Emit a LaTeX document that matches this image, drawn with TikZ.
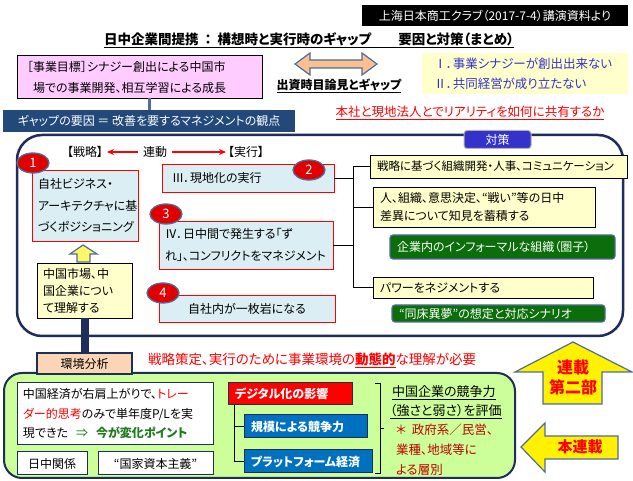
\documentclass[tikz,border=0pt]{standalone}
\usepackage{fontspec}
\setmainfont{Noto Sans CJK JP}[RawFeature=+palt]
\usetikzlibrary{arrows.meta,shapes.geometric}
\newcommand{\myfs}[2]{\fontsize{#1}{#2}\selectfont}
\definecolor{navy}{HTML}{1F2D5C}
\definecolor{steel}{HTML}{4F6D9A}
\definecolor{barblue}{HTML}{23497A}
\definecolor{lblue}{HTML}{DAEEF3}
\definecolor{pyel}{HTML}{FFFFCC}
\definecolor{pinkf}{HTML}{FFCCFF}
\definecolor{orangef}{HTML}{FAC090}
\definecolor{jblue}{HTML}{3333CC}
\definecolor{dgreen}{HTML}{0B6E0B}
\definecolor{lgreen}{HTML}{CCFF99}
\definecolor{peach}{HTML}{FBD5B5}
\definecolor{mblue}{HTML}{0070C0}
\definecolor{dred}{HTML}{C00000}
\definecolor{tgreen}{HTML}{1E7B1E}
\definecolor{circred}{HTML}{E00000}
\tikzset{
  every node/.style={inner sep=0pt, outer sep=0pt},
  lbox/.style={draw=red, fill=lblue, line width=0.8pt, align=left, inner xsep=7pt},
  ybox/.style={draw=black, fill=pyel, line width=0.8pt, align=left, inner xsep=7pt},
  gbox/.style={draw=steel, fill=dgreen, rounded corners=3pt, text=white, line width=1.2pt, align=left, inner xsep=7pt},
  wbox/.style={draw=navy, fill=white, line width=1pt, align=left, inner xsep=6pt},
  numc/.style={ellipse, draw=steel, line width=1.3pt, fill=circred, text=white, minimum width=32pt, minimum height=20pt, font={\myfs{13}{14}}},
  tree/.style={draw=black, line width=0.8pt},
  yarrow/.style={draw=steel, fill=yellow, line width=1.2pt},
  redarrow/.style={draw=red, line width=1.5pt, -{Stealth[length=7pt,width=6pt]}},
  cbox/.style={draw=navy, line width=1pt, text=white, font={\myfs{12}{14}\bfseries}, align=left, inner xsep=7pt}
}
\begin{document}
\begin{tikzpicture}[x=1pt,y=-1pt]
\useasboundingbox (0,0) rectangle (633,481);
\fill[white] (0,0) rectangle (633,481);
% header
\node[fill=black, text=white, minimum width=266pt, minimum height=21pt, font={\myfs{12}{14}}] (hdr) at (495,15.5) {上海日本商工クラブ（2017-7-4）講演資料より};
\node[font={\myfs{13.5}{15}\bfseries}] (title) at (309,40) {\underline{日中企業間提携\ \ ：\ \ 構想時と実行時のギャップ\hspace{2em}要因と対策（まとめ）}};
% goal box
\node[draw=black, fill=pinkf, line width=0.8pt, align=left, inner xsep=10pt, text width=225pt, minimum height=43pt, font={\myfs{12}{21}}] (goal) at (139.5,77) {［事業目標］シナジー創出による中国市\\\hspace{0.5em}場での事業開発、相互学習による成長};
% double arrow
\draw[steel, fill=orangef, line width=1.2pt] (295,64) -- (310,53) -- (310,60) -- (362,60) -- (362,53) -- (377,64) -- (362,75) -- (362,68) -- (310,68) -- (310,75) -- cycle;
\node[font={\myfs{12}{14}\bfseries}] (gap) at (339,86) {\underline{出資時目論見とギャップ}};
\node[fill=pyel, text width=182pt, minimum height=41pt, inner xsep=12pt, align=left, text=jblue, font={\myfs{12.5}{20}}] (issues) at (525,74) {Ⅰ．事業シナジーが創出出来ない\\Ⅱ．共同経営が成り立たない};
% bar
\node[fill=barblue, text=white, minimum width=292pt, minimum height=22pt, font={\myfs{12}{14}}] (bar) at (149,121) {ギャップの要因 ＝ 改善を要するマネジメントの観点};
\draw[steel, line width=3pt] (bar.north |- goal.south) -- (bar.north);
\node[text=red, font={\myfs{12.5}{14}}] (share) at (470,113) {\underline{本社と現地法人とでリアリティを如何に共有するか}};
% main container
\node[draw=navy, line width=2.5pt, rounded corners=25pt, minimum width=606pt, minimum height=201pt] (main) at (320,235.5) {};
\node[fill=jblue, draw=gray!60, line width=1pt, rounded corners=3pt, text=white, minimum width=67pt, minimum height=18pt, font={\myfs{12}{14}}] (taisaku) at (497.5,139.5) {対策};
% header row
\node[font={\myfs{12}{14}}] (senryaku) at (85,152) {【戦略】};
\node[font={\myfs{12}{14}}] (rendo) at (155,152) {連動};
\node[font={\myfs{12}{14}}] (jikko) at (246,152) {【実行】};
\draw[redarrow, shorten <=5pt, shorten >=4pt] (rendo) -- (senryaku);
\draw[redarrow, shorten <=5pt, shorten >=2pt] (rendo) -- (jikko);
% left boxes
\node[lbox, inner xsep=6pt, text width=94pt, minimum height=71pt, font={\myfs{12}{21.5}}] (b1) at (85,205.5) {自社ビジネス・\\アーキテクチャに基\\づくポジショニング};
\node[lbox, minimum height=28pt, inner xsep=10pt, text width=152pt, font={\myfs{12}{14}}] (b2) at (248,178) {Ⅲ．現地化の実行};
\node[lbox, text width=162pt, inner xsep=6pt, minimum height=48pt, font={\myfs{12}{22}}] (b3) at (246,245) {Ⅳ．日中間で発生する「ず\\れ」、コンフリクトをマネジメント};
\node[lbox, minimum width=176pt, minimum height=27pt, font={\myfs{12}{14}}] (b4) at (247,308.5) {自社内が一枚岩になる};
\node[numc] (c1) at (33,163) {1};
\node[numc] (c2) at (309,170) {2};
\node[numc] (c3) at (166,214) {3};
\node[numc] (c4) at (163,293) {4};
% small up arrow
\draw[steel, fill=yellow!60!white, line width=1.2pt] (83,245) -- (97,254) -- (90,254) -- (90,262) -- (77,262) -- (77,254) -- (70,254) -- cycle;
\node[ybox, inner xsep=6pt, text width=83pt, minimum height=55pt, font={\myfs{12}{17}}] (cm) at (84.5,290.5) {中国市場、中\\国企業につい\\て理解する};
% right column
\node[ybox, text width=243pt, minimum height=23pt, font={\myfs{11.5}{14}}] (ta) at (498.5,166.5) {戦略に基づく組織開発・人事、コミュニケーション};
\node[ybox, text width=208pt, minimum height=40pt, font={\myfs{12}{18}}] (tb) at (484,207) {人、組織、意思決定、“戦い”等の日中\\差異について知見を蓄積する};
\node[gbox, text width=211pt, minimum height=24pt, font={\myfs{12}{14}}] (tg1) at (502.5,247) {企業内のインフォーマルな組織（圏子）};
\node[ybox, text width=206pt, minimum height=21pt, font={\myfs{12}{14}}] (tc) at (483,287.5) {パワーをネジメントする};
\node[gbox, text width=199pt, minimum height=17pt, font={\myfs{12}{14}}] (tg2) at (498.5,313.5) {“同床異夢”の想定と対応シナリオ};
\coordinate (tt) at (353,0);
\draw[tree] (ta.west -| tt) -- (tc.west -| tt);
\draw[tree] (ta.west -| tt) -- (ta.west);
\draw[tree] (tb.west -| tt) -- (tb.west);
\draw[tree] (tc.west -| tt) -- (tc.west);
\draw[tree] (b2.east) -- (b2.east -| tt);
\draw[tree] (b3.east) -- (b3.east -| tt);
% environment section
\node[draw=navy, line width=2pt, fill=lgreen, rounded corners=18pt, minimum width=511pt, minimum height=105pt] (envbox) at (259.5,425.5) {};
\node[draw=navy, line width=2pt, fill=peach, minimum width=95pt, minimum height=21pt, font={\myfs{12}{14}}] (env) at (84.5,363.5) {環境分析};
\draw[navy, line width=8pt] (cm.south) -- (env.north);
\node[anchor=west, text=red, font={\myfs{13.5}{15}}] (need) at (148,360) {戦略策定、実行のために事業環境の\underline{\textbf{動態的}}な理解が必要};
\node[wbox, text width=184pt, minimum height=62pt, font={\myfs{12}{19.5}}] (ce) at (115,414) {中国経済が右肩上がりで、\textcolor{red}{トレー}\\\textcolor{red}{ダー的思考}のみで単年度P/Lを実\\現できた\ \ \textcolor{tgreen}{⇒\ \ \textbf{今が変化ポイント}}};
\node[wbox, minimum width=70pt, minimum height=23pt, font={\myfs{12}{14}}] (nc) at (52,463.5) {日中関係};
\node[wbox, minimum width=115pt, minimum height=23pt, font={\myfs{12}{14}}] (kk) at (155.5,463.5) {“国家資本主義”};
\node[cbox, fill=red, text width=110pt, minimum height=22pt] (dg) at (290,394) {デジタル化の影響};
\node[cbox, fill=mblue, text width=109pt, minimum height=23pt] (kb) at (305.5,426.5) {規模による競争力};
\node[cbox, fill=mblue, text width=114pt, minimum height=23pt] (pf) at (308,461.5) {プラットフォーム経済};
\coordinate (dx) at (234,0);
\draw[tree] (dg.south -| dx) |- (pf.west);
\draw[tree] (kb.west -| dx) -- (kb.west);
\draw[tree] (375,383) -- (380,383) -- (380,473) -- (375,473);
\draw[tree] (380,428) -- (384,428);
\node[anchor=west, font={\myfs{13}{15}}] (cp1) at (392,393) {\underline{中国企業の競争力}};
\node[anchor=west, font={\myfs{13}{15}}] (cp2) at (390,412) {\underline{（強さと弱さ）を評価}};
\node[anchor=north west, text=dred, align=left, font={\myfs{12.5}{20}}] (layer) at (396,424) {＊\ \ 政府系／民営、\\業種、地域等に\\よる層別};
% big arrows
\draw[yarrow] (573,342) -- (632,372) -- (602,372) -- (602,404) -- (543,404) -- (543,372) -- (515,372) -- cycle;
\node[text=red, align=center, font={\myfs{16}{20}\bfseries}] (rensai2) at (573,377) {連載\\第二部};
\draw[yarrow] (521,447) -- (545,423) -- (545,436) -- (618,436) -- (618,459) -- (545,459) -- (545,472) -- cycle;
\node[text=red, font={\myfs{15}{17}\bfseries}] (rensai) at (580,447) {本連載};
\end{tikzpicture}
\end{document}
